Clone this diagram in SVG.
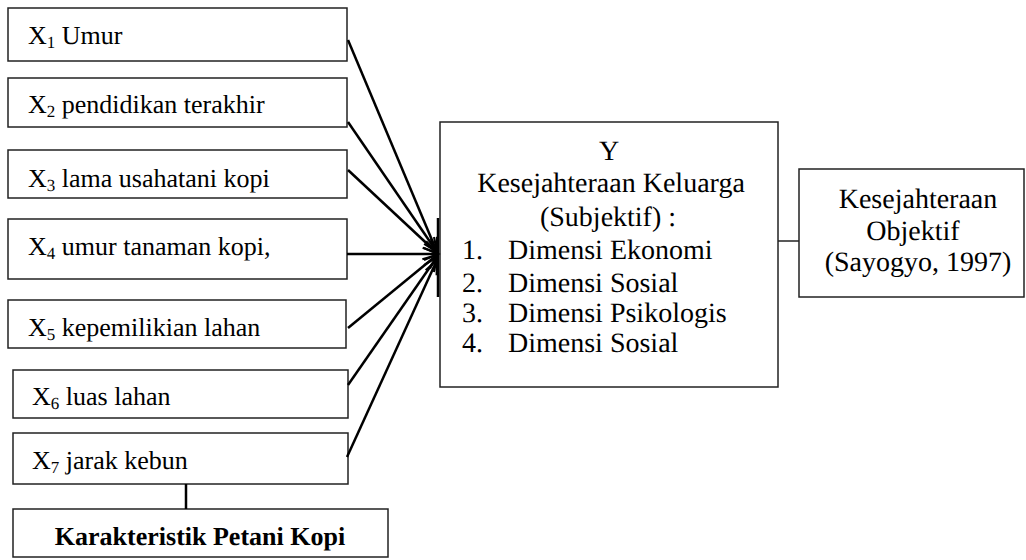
<svg xmlns="http://www.w3.org/2000/svg" width="1026" height="560" viewBox="0 0 1026 560" text-rendering="geometricPrecision">
<style>
.box{fill:#fff;stroke:#222;stroke-width:1.5}
.t{font-family:'Liberation Serif','Times New Roman',serif;fill:#000}
.s{font-size:26px}
.m{font-size:28px}
.b{font-size:26px;font-weight:bold}
.c{stroke:#000;stroke-width:2.5;fill:none}
</style>
<defs>
<marker id="ah" markerWidth="18" markerHeight="14" refX="15" refY="7" orient="auto" markerUnits="userSpaceOnUse">
<path d="M1,1 L15,7 L1,13" fill="none" stroke="#000" stroke-width="2.2"/>
</marker>
</defs>
<rect width="1026" height="560" fill="#fff"/>
<g id="x1"><rect class="box" x="8" y="8" width="339" height="53"/><text class="t s" x="28" y="44">X<tspan font-size="17" dy="4">1</tspan><tspan dy="-4"> Umur</tspan></text></g>
<g id="x2"><rect class="box" x="8" y="78" width="339" height="49"/><text class="t s" x="28" y="113">X<tspan font-size="17" dy="4">2</tspan><tspan dy="-4"> pendidikan terakhir</tspan></text></g>
<g id="x3"><rect class="box" x="8" y="150" width="339" height="48"/><text class="t s" x="28" y="187">X<tspan font-size="17" dy="4">3</tspan><tspan dy="-4"> lama usahatani kopi</tspan></text></g>
<g id="x4"><rect class="box" x="8" y="219" width="339" height="60"/><text class="t s" x="28" y="255">X<tspan font-size="17" dy="4">4</tspan><tspan dy="-4"> umur tanaman kopi,</tspan></text></g>
<g id="x5"><rect class="box" x="8" y="300" width="338" height="48"/><text class="t s" x="28" y="336">X<tspan font-size="17" dy="4">5</tspan><tspan dy="-4"> kepemilikian lahan</tspan></text></g>
<g id="x6"><rect class="box" x="13" y="370" width="335" height="48"/><text class="t s" x="32" y="405">X<tspan font-size="17" dy="4">6</tspan><tspan dy="-4"> luas lahan</tspan></text></g>
<g id="x7"><rect class="box" x="13" y="433" width="335" height="51"/><text class="t s" x="32" y="469">X<tspan font-size="17" dy="4">7</tspan><tspan dy="-4"> jarak kebun</tspan></text></g>
<g id="karakteristik"><rect class="box" x="13" y="509" width="375" height="48"/><text class="t b" x="200" y="545" text-anchor="middle">Karakteristik Petani Kopi</text></g>
<g id="y"><rect class="box" x="440" y="122" width="338" height="265"/>
<text class="t m" x="609" y="160" text-anchor="middle">Y</text>
<text class="t m" x="611" y="192" text-anchor="middle">Kesejahteraan Keluarga</text>
<text class="t m" x="608" y="226" text-anchor="middle">(Subjektif) :</text>
<text class="t m" x="462" y="259">1.</text><text class="t m" x="508" y="259">Dimensi Ekonomi</text>
<text class="t m" x="462" y="292">2.</text><text class="t m" x="508" y="292">Dimensi Sosial</text>
<text class="t m" x="462" y="322">3.</text><text class="t m" x="508" y="322">Dimensi Psikologis</text>
<text class="t m" x="462" y="352">4.</text><text class="t m" x="508" y="352">Dimensi Sosial</text>
</g>
<g id="objektif"><rect class="box" x="799" y="169" width="225" height="128"/>
<text class="t m" x="918" y="208" text-anchor="middle">Kesejahteraan</text>
<text class="t m" x="913" y="240" text-anchor="middle">Objektif</text>
<text class="t m" x="918" y="271" text-anchor="middle">(Sayogyo, 1997)</text>
</g>
<g id="connectors">
<line class="c" x1="348" y1="40" x2="437" y2="252" marker-end="url(#ah)"/>
<line class="c" x1="348" y1="122" x2="437" y2="252" marker-end="url(#ah)"/>
<line class="c" x1="348" y1="170" x2="437" y2="253" marker-end="url(#ah)"/>
<line class="c" x1="347" y1="254" x2="438" y2="254" marker-end="url(#ah)"/>
<line class="c" x1="348" y1="328" x2="437" y2="255" marker-end="url(#ah)"/>
<line class="c" x1="348" y1="385" x2="437" y2="257" marker-end="url(#ah)"/>
<line class="c" x1="347" y1="457" x2="437" y2="260" marker-end="url(#ah)"/>
<line x1="438" y1="218" x2="438" y2="297" stroke="#000" stroke-width="2.5"/>
<line x1="778" y1="241" x2="799" y2="241" stroke="#222" stroke-width="1.5"/>
<line x1="186" y1="484" x2="186" y2="509" stroke="#000" stroke-width="2.5"/>
</g>
</svg>
